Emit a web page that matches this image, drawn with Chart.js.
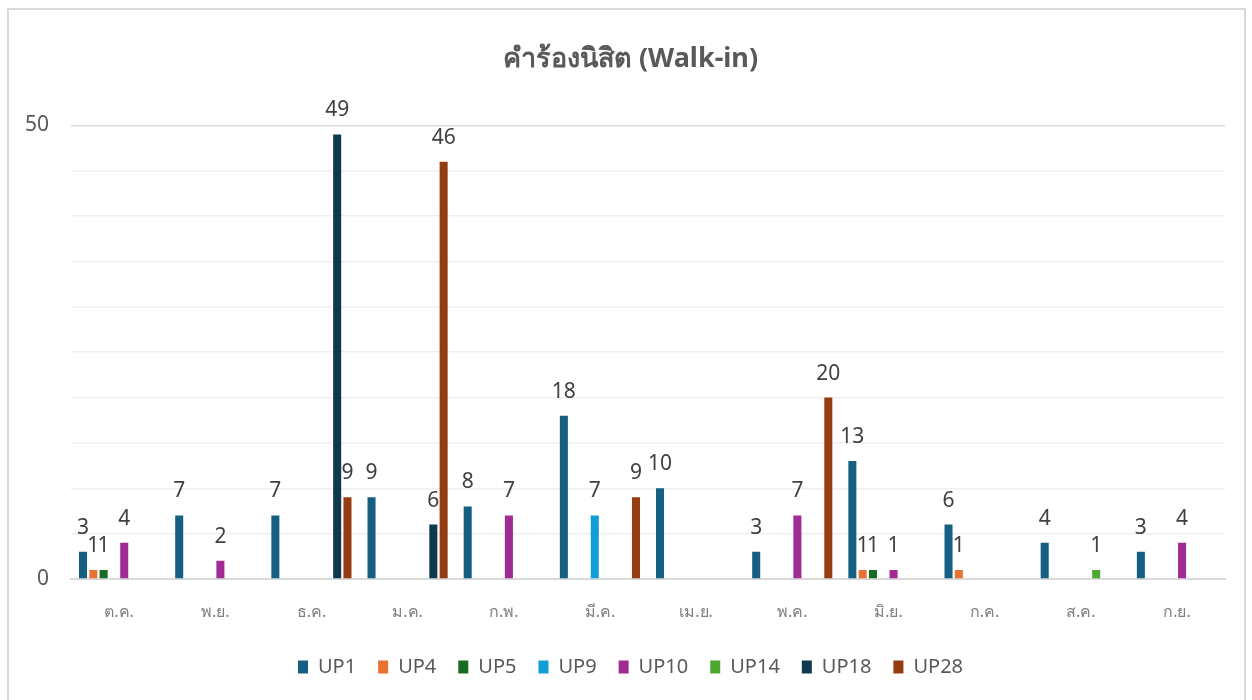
<!DOCTYPE html>
<html>
<head>
<meta charset="utf-8">
<script src="https://cdn.jsdelivr.net/npm/chart.js@4.4.1/dist/chart.umd.min.js"></script>
<style>
  html, body { margin: 0; padding: 0; background: #fff; }
  #wrap { position: relative; width: 1252px; height: 700px; }
  #frame { position: absolute; left: 7px; top: 8px; width: 1239px; height: 700px; border: 2px solid #d9d9d9; box-sizing: border-box; pointer-events: none; }
</style>
</head>
<body>
<div id="wrap">
  <canvas id="chart" width="1252" height="700"></canvas>
  <div id="frame"></div>
</div>
<script>
const months = ["ต.ค.", "พ.ย.", "ธ.ค.", "ม.ค.", "ก.พ.", "มี.ค.", "เม.ย.", "พ.ค.", "มิ.ย.", "ก.ค.", "ส.ค.", "ก.ย."];
const seriesNames = ["UP1", "UP4", "UP5", "UP9", "UP10", "UP14", "UP18", "UP28"];
const up1  = [3, 7, 7, 9, 8, 18, 10, 3, 13, 6, 4, 3];
const up4  = [1, null, null, null, null, null, null, null, 1, 1, null, null];
const up5  = [1, null, null, null, null, null, null, null, 1, null, null, null];
const up9  = [null, null, null, null, null, 7, null, null, null, null, null, null];
const up10 = [4, 2, null, null, 7, null, null, 7, 1, null, null, 4];
const up14 = [null, null, null, null, null, null, null, null, null, null, 1, null];
const up18 = [null, null, 49, 6, null, null, null, null, null, null, null, null];
const up28 = [null, null, 9, 46, null, 9, null, 20, null, null, null, null];
const yTicks = [0, 50];

const colors = ["#156082", "#E97132", "#196B24", "#0F9ED5", "#A02B93", "#4EA72E", "#10384F", "#963C11"];
const values = [up1, up4, up5, up9, up10, up14, up18, up28];

// value labels above each bar
const labelPlugin = {
  id: "barLabels",
  afterLayout(chart) {
    // tick labels are clipped to their axis box, so widen the boxes after layout
    chart.scales.y.left = 0;
    chart.scales.x.bottom = chart.height;
  },
  afterDatasetsDraw(chart) {
    const { ctx } = chart;
    ctx.save();
    ctx.font = "21px 'Noto Sans'";
    ctx.fillStyle = "#404040";
    ctx.textAlign = "center";
    ctx.textBaseline = "alphabetic";
    chart.data.datasets.forEach((ds, i) => {
      const meta = chart.getDatasetMeta(i);
      meta.data.forEach((bar, j) => {
        const v = ds.data[j];
        if (v == null) return;
        ctx.fillText(String(v), bar.x, bar.y - 18);
      });
    });
    ctx.restore();
  },
};

new Chart(document.getElementById("chart"), {
  type: "bar",
  data: {
    labels: months,
    datasets: seriesNames.map((name, i) => ({
      label: name,
      data: values[i],
      backgroundColor: colors[i],
      borderWidth: 0,
      barPercentage: 0.78,
      categoryPercentage: 0.857,
    })),
  },
  options: {
    responsive: false,
    animation: false,
    layout: { padding: { left: 36, right: 27, top: 28, bottom: 13 } },
    plugins: {
      title: {
        display: true,
        text: "คำร้องนิสิต (Walk-in)",
        color: "#595959",
        font: { family: "'Noto Sans'", size: 27, weight: "bold" },
        padding: { top: 15, bottom: 50 },
      },
      legend: {
        position: "bottom",
        labels: {
          color: "#595959",
          font: { family: "'Noto Sans'", size: 20 },
          boxWidth: 10,
          boxHeight: 13,
          padding: 22,
        },
      },
      tooltip: { enabled: false },
    },
    scales: {
      x: {
        grid: { display: false, drawTicks: false },
        border: { color: "#d9d9d9", width: 2 },
        afterFit: (scale) => { scale.height = 56; },
        ticks: {
          color: "#7f7f7f",
          font: { family: "'Noto Sans'", size: 16 },
          padding: 24,
        },
      },
      y: {
        min: 0,
        max: 50,
        grid: {
          drawTicks: false,
          color: (c) => (yTicks.includes(c.tick.value) ? "#d9d9d9" : "#efefef"),
          lineWidth: 1.5,
        },
        border: { display: false },
        afterFit: (scale) => { scale.width = 35; },
        ticks: {
          stepSize: 5,
          color: "#595959",
          font: { family: "'Noto Sans'", size: 21 },
          padding: 22,
          callback: (v) => (yTicks.includes(v) ? v : ""),
        },
      },
    },
  },
  plugins: [labelPlugin],
});
</script>
</body>
</html>
